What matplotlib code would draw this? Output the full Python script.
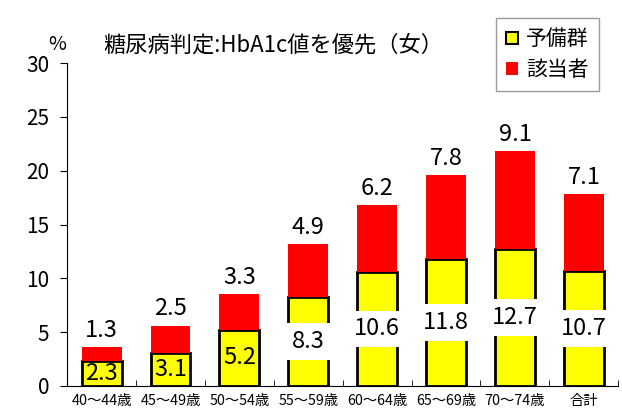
import matplotlib
matplotlib.use('Agg')
import matplotlib.pyplot as plt
import numpy as np
from matplotlib.patches import Patch

plt.rcParams['font.family'] = ['Noto Sans CJK JP', 'DejaVu Sans']

# データ
categories = ['40～44歳', '45～49歳', '50～54歳', '55～59歳', '60～64歳',
              '65～69歳', '70～74歳', '合計']
yobigun = [2.3, 3.1, 5.2, 8.3, 10.6, 11.8, 12.7, 10.7]
gaitou = [1.3, 2.5, 3.3, 4.9, 6.2, 7.8, 9.1, 7.1]

fig = plt.figure(figsize=(6.22, 4.15), dpi=100)
ax = fig.add_axes([0.108, 0.07, 0.886, 0.778])

x = np.arange(len(categories))
w = 0.58
ax.bar(x, yobigun, w, color='#ffff00', edgecolor='black', linewidth=2, zorder=2)
ax.bar(x, gaitou, w, bottom=yobigun, color='#ff0000', linewidth=0, zorder=2)

# ラベル
for i in range(len(x)):
    if yobigun[i] >= 8:
        ax.text(x[i], yobigun[i] / 2, f'{yobigun[i]:.1f}', ha='center', va='center',
                fontsize=17, zorder=3,
                bbox=dict(facecolor='white', edgecolor='none', pad=5))
    else:
        ax.text(x[i], yobigun[i] / 2, f'{yobigun[i]:.1f}', ha='center', va='center',
                fontsize=17, zorder=3)
    ax.text(x[i], yobigun[i] + gaitou[i] + 0.5, f'{gaitou[i]:.1f}', ha='center',
            va='bottom', fontsize=17, zorder=3)

ax.set_xlim(-0.5, len(x) - 0.5)
ax.set_ylim(0, 30)
ax.set_yticks(range(0, 31, 5))
ax.set_xticks(x)
ax.set_xticklabels(categories, fontsize=10.3)
ax.set_xticks(np.arange(-0.5, len(x), 1), minor=True)
ax.tick_params(axis='x', which='major', length=0, pad=6)
ax.tick_params(axis='x', which='minor', direction='in', length=4)
ax.tick_params(axis='y', direction='out', length=5, labelsize=15, pad=8)
for s in ['top', 'right']:
    ax.spines[s].set_visible(False)

fig.text(0.092, 0.892, '%', fontsize=14, ha='center', va='center')
fig.text(0.44, 0.892, '糖尿病判定:HbA1c値を優先（女）', fontsize=16, ha='center', va='center')

handles = [Patch(facecolor='#ffff00', edgecolor='black', linewidth=1.5),
           Patch(facecolor='#ff0000', edgecolor='none')]
leg = fig.legend(handles, ['予備群', '該当者'], loc='upper right',
                 bbox_to_anchor=(0.98, 0.982), fontsize=15, fancybox=False,
                 edgecolor='#808080', handlelength=0.55, handleheight=0.55,
                 handletextpad=0.4, borderpad=0.5, labelspacing=0.4)
leg.get_frame().set_linewidth(1)

fig.savefig('out.png', dpi=100)
